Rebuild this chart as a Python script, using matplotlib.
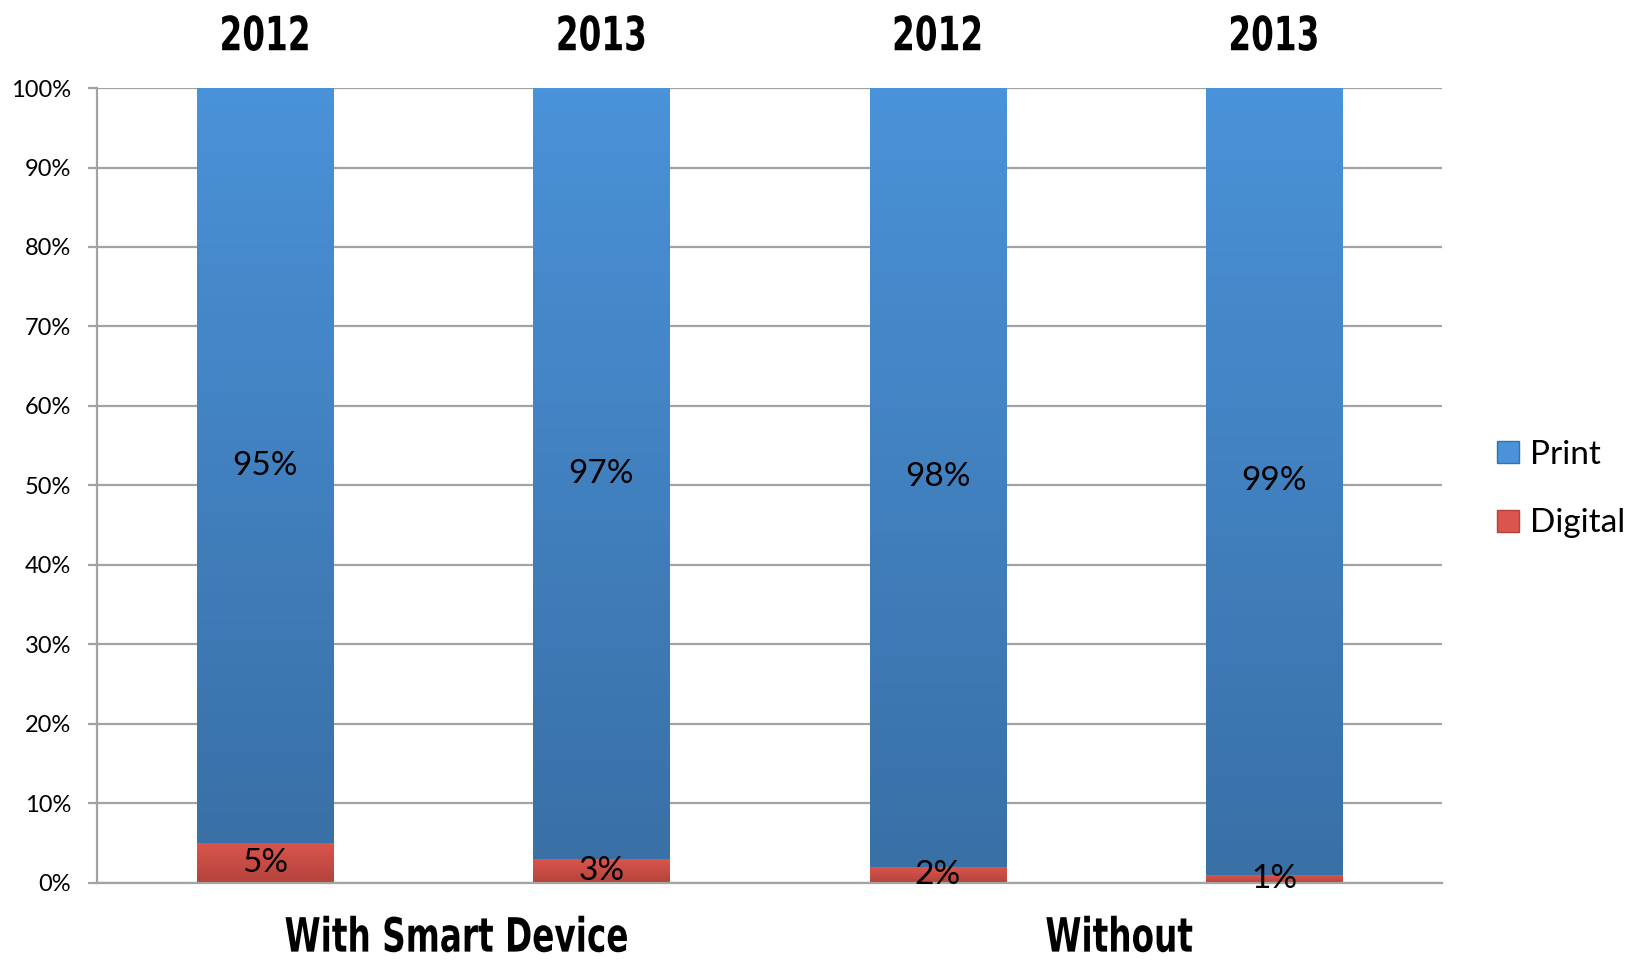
import matplotlib
matplotlib.use("Agg")
import matplotlib.pyplot as plt
import numpy as np
from matplotlib.colors import LinearSegmentedColormap
from matplotlib.patches import Patch
from matplotlib.patheffects import AbstractPathEffect
from matplotlib.ticker import FuncFormatter, MultipleLocator
from matplotlib.transforms import Affine2D

# Share of readers by format, per year and device group
years = ["2012", "2013", "2012", "2013"]
groups = ["With Smart Device", "Without"]
digital = [5, 3, 2, 1]
print_share = [95, 97, 98, 99]

BLUE_TOP, BLUE_BOTTOM = "#4A92D9", "#3970A6"
RED_TOP, RED_BOTTOM = "#DA554D", "#B3433B"
GRID = "#A3A3A3"

LABEL_FONT = ["Lato", "DejaVu Sans"]


class Squeeze(AbstractPathEffect):
    """Narrow the glyphs horizontally around the middle of the string."""

    def __init__(self, sx):
        super().__init__()
        self.sx = sx

    def draw_path(self, renderer, gc, tpath, affine, rgbFace=None):
        ext = tpath.get_extents()
        cx = (ext.x0 + ext.x1) / 2
        t = Affine2D().translate(-cx, 0).scale(self.sx, 1).translate(cx, 0) + affine
        renderer.draw_path(gc, tpath, t, rgbFace)


HEAD_STYLE = dict(fontsize=34, fontweight="bold", family="DejaVu Sans",
                  fontstretch="condensed", path_effects=[Squeeze(0.77)])

fig = plt.figure(figsize=(16.27, 9.63), dpi=100)
ax = fig.add_axes([0.0596, 0.0832, 0.8267, 0.8254])

x = np.arange(len(years))
width = 0.405
b_dig = ax.bar(x, digital, width, color=RED_TOP, zorder=2)
b_prn = ax.bar(x, print_share, width, bottom=digital, color=BLUE_TOP, zorder=2)


def shade(bars, top, bottom):
    # vertical gradient clipped to each bar segment
    cmap = LinearSegmentedColormap.from_list("g", [bottom, top])
    grad = np.linspace(0, 1, 256).reshape(-1, 1)
    for p in bars:
        x0, y0 = p.get_x(), p.get_y()
        im = ax.imshow(grad, cmap=cmap, aspect="auto", origin="lower",
                       extent=[x0, x0 + p.get_width(), y0, y0 + p.get_height()],
                       zorder=3, interpolation="bicubic")
        im.set_clip_path(p)


shade(b_dig, RED_TOP, RED_BOTTOM)
shade(b_prn, BLUE_TOP, BLUE_BOTTOM)

for i in range(len(years)):
    ax.text(x[i], digital[i] / 2, f"{digital[i]}%", ha="center", va="center",
            fontsize=24, family=LABEL_FONT, zorder=5)
    ax.text(x[i], digital[i] + print_share[i] / 2, f"{print_share[i]}%", ha="center",
            va="center", fontsize=24, family=LABEL_FONT, zorder=5)

ax.set_xlim(-0.5, len(years) - 0.5)
ax.set_ylim(0, 100)
ax.yaxis.set_major_locator(MultipleLocator(10))
ax.yaxis.set_major_formatter(FuncFormatter(lambda v, _: f"{v:.0f}%"))
ax.grid(axis="y", color=GRID, linewidth=1.6, zorder=1)
ax.tick_params(axis="y", length=6.5, width=1.6, color=GRID, pad=12, labelsize=17)
for lbl in ax.get_yticklabels():
    lbl.set_family(LABEL_FONT)

for side in ["top", "right"]:
    ax.spines[side].set_visible(False)
for side in ["left", "bottom"]:
    ax.spines[side].set_color(GRID)
    ax.spines[side].set_linewidth(1.6)
    ax.spines[side].set_zorder(4)

# year headers along the top
ax.xaxis.tick_top()
ax.set_xticks(x)
ax.set_xticklabels(years)
for lbl in ax.get_xticklabels():
    lbl.update(HEAD_STYLE)
ax.tick_params(axis="x", length=0, pad=20)

# group names under the bars
for xpos, name in zip([0.57, 2.54], groups):
    ax.annotate(name, xy=(xpos, 0), xycoords=("data", "figure fraction"),
                xytext=(0, 1), textcoords="offset points", ha="center", va="bottom",
                **HEAD_STYLE)

handles = [Patch(facecolor=BLUE_TOP, edgecolor=BLUE_BOTTOM),
           Patch(facecolor=RED_TOP, edgecolor=RED_BOTTOM)]
fig.legend(handles, ["Print", "Digital"], loc="center left", bbox_to_anchor=(0.912, 0.492),
           frameon=False, prop={"family": LABEL_FONT, "size": 24},
           handlelength=0.65, handleheight=0.65, handletextpad=0.35, labelspacing=1.15,
           borderaxespad=0)

fig.savefig("out.png", dpi=100)
